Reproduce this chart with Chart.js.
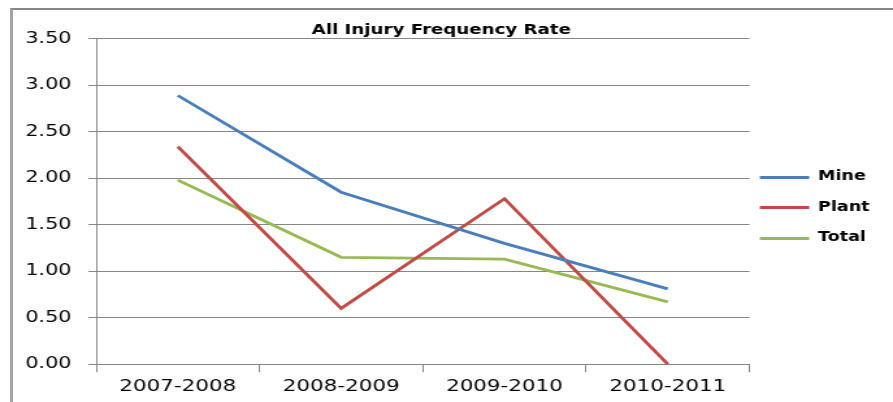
<!DOCTYPE html>
<html>
<head>
<meta charset="utf-8">
<script src="https://cdn.jsdelivr.net/npm/chart.js@4"></script>
<style>
  html, body { margin: 0; padding: 0; background: #fff; overflow: hidden; }
  #wrap { position: relative; width: 893px; height: 402px; }
  /* the source picture is stretched sideways, so the canvas is too */
  #chart { position: absolute; left: 0; top: 0; width: 893px; height: 402px; }
  #frame {
    position: absolute; left: 10px; top: 8px; right: -20px; bottom: -20px;
    border-left: 3px solid #a3a3a3; border-top: 2px solid #888;
    pointer-events: none;
  }
</style>
</head>
<body>
<div id="wrap">
  <canvas id="chart" width="687" height="402" style="width:893px;height:402px"></canvas>
  <div id="frame"></div>
</div>
<script>
// Données
const periods = ["2007-2008", "2008-2009", "2009-2010", "2010-2011"];
const mine = [2.89, 1.85, 1.30, 0.81];
const plant = [2.34, 0.60, 1.78, 0.00];
const total = [1.98, 1.15, 1.13, 0.67];
const seriesNames = ["Mine", "Plant", "Total"];
const seriesColors = ["#4a7ebb", "#be4b48", "#98b954"];

const gridColor = "#878787";
const legendBox = 38;

// trait de légende fin (la boîte de légende reste transparente pour garder l'espacement)
const legendLines = {
  id: "legendLines",
  afterDraw(chart) {
    const legend = chart.legend;
    if (!legend || !legend.legendHitBoxes) return;
    const c = chart.ctx;
    c.save();
    legend.legendHitBoxes.forEach((box, i) => {
      const y = Math.round(box.top + box.height / 2) + 0.5;
      c.strokeStyle = seriesColors[i];
      c.lineWidth = 3;
      c.beginPath();
      c.moveTo(box.left, y);
      c.lineTo(box.left + legendBox, y);
      c.stroke();
    });
    c.restore();
  },
};

const ctx = document.getElementById("chart").getContext("2d");
const myChart = new Chart(ctx, {
  type: "line",
  data: {
    labels: periods,
    datasets: [mine, plant, total].map((values, i) => ({
      label: seriesNames[i],
      data: values,
      borderColor: seriesColors[i],
      backgroundColor: seriesColors[i],
      borderWidth: 2.8,
      pointRadius: 0,
      tension: 0,
      fill: false,
    })),
  },
  options: {
    responsive: false,
    animation: false,
    layout: { padding: { left: 0, right: 8, top: 0, bottom: 0 } },
    plugins: {
      title: {
        display: true,
        text: "All Injury Frequency Rate",
        color: "#000",
        font: { family: "DejaVu Sans", size: 14, weight: "bold" },
        padding: { top: 22, bottom: 0 },
      },
      legend: {
        position: "right",
        title: { display: true, text: " ", font: { size: 10 }, padding: 0 },
        labels: {
          color: "#000",
          font: { family: "DejaVu Sans", size: 13.5, weight: "bold" },
          boxWidth: legendBox,
          boxHeight: 22.5,
          padding: 8,
          generateLabels: (chart) => chart.data.datasets.map((ds, i) => ({
            text: ds.label,
            fillStyle: "rgba(0,0,0,0)",
            strokeStyle: "rgba(0,0,0,0)",
            fontColor: "#000",
            lineWidth: 0,
            datasetIndex: i,
          })),
        },
      },
      tooltip: { enabled: false },
    },
    scales: {
      x: {
        offset: true,
        grid: {
          offset: true,
          drawOnChartArea: false,
          color: gridColor,
          tickLength: 8,
        },
        border: { color: gridColor },
        ticks: {
          color: "#000",
          font: { family: "DejaVu Sans", size: 16.5 },
          padding: 5,
          maxRotation: 0,
        },
      },
      y: {
        min: 0,
        max: 3.5,
        grid: { color: gridColor, tickLength: 6 },
        border: { color: gridColor },
        ticks: {
          stepSize: 0.5,
          color: "#000",
          font: { family: "DejaVu Sans", size: 16 },
          padding: 13,
          callback: (v) => v.toFixed(2),
        },
        afterFit: (scale) => { scale.width = 74; },
      },
    },
  },
  plugins: [legendLines],
});
</script>
</body>
</html>
